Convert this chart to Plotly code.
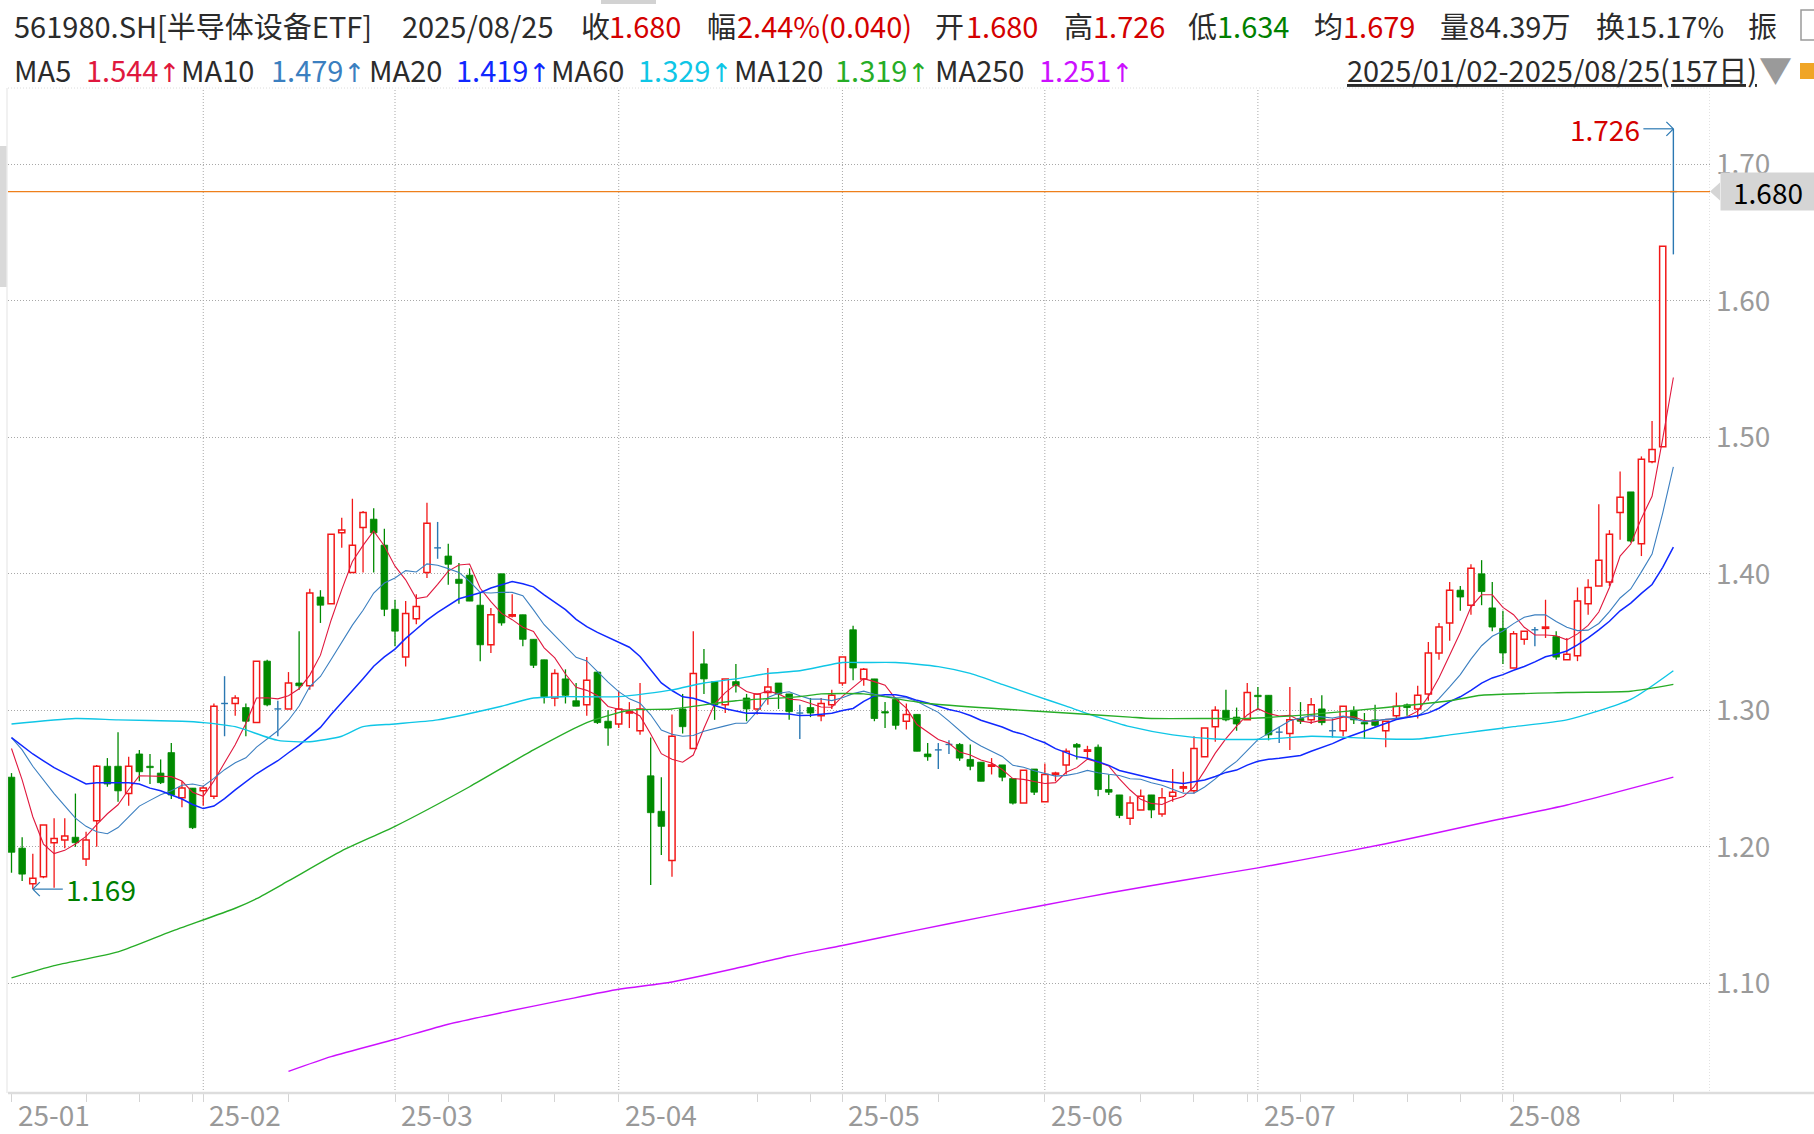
import numpy as np
import plotly.graph_objects as go

# ---------------- data ----------------
open_ = [1.251,1.199,1.173,1.178,1.203,1.205,1.207,1.191,1.219,1.259,
         1.259,1.239,1.268,1.259,1.254,1.269,1.236,1.243,1.241,1.237,
         1.305,1.305,1.302,1.291,1.336,1.301,1.301,1.320,1.318,1.383,
         1.378,1.430,1.401,1.434,1.440,1.421,1.374,1.339,1.367,1.401,
         1.419,1.413,1.396,1.399,1.377,1.348,1.400,1.369,1.370,1.352,
         1.337,1.309,1.323,1.307,1.304,1.328,1.292,1.290,1.298,1.285,
         1.252,1.226,1.190,1.301,1.272,1.334,1.321,1.304,1.321,1.309,
         1.301,1.313,1.320,1.312,1.298,1.302,1.296,1.304,1.320,1.359,
         1.323,1.323,1.299,1.308,1.292,1.297,1.268,1.271,1.275,1.275,
         1.264,1.262,1.259,1.260,1.250,1.232,1.257,1.233,1.253,1.260,
         1.275,1.270,1.273,1.242,1.238,1.221,1.227,1.238,1.224,1.237,
         1.243,1.241,1.266,1.288,1.300,1.295,1.293,1.311,1.311,1.284,
         1.283,1.294,1.293,1.301,1.285,1.285,1.300,1.291,1.293,1.285,
         1.296,1.304,1.301,1.312,1.342,1.364,1.388,1.377,1.400,1.375,
         1.360,1.331,1.352,1.359,1.360,1.354,1.337,1.340,1.378,1.391,
         1.394,1.445,1.460,1.422,1.482,1.493,1.680]
high = [1.254,1.207,1.195,1.216,1.221,1.221,1.239,1.211,1.260,1.265,
        1.284,1.266,1.271,1.268,1.264,1.276,1.248,1.243,1.245,1.305,
        1.325,1.311,1.305,1.336,1.337,1.307,1.328,1.358,1.389,1.388,
        1.429,1.441,1.455,1.446,1.448,1.433,1.381,1.380,1.385,1.452,
        1.438,1.422,1.408,1.404,1.386,1.375,1.400,1.385,1.370,1.352,
        1.337,1.330,1.330,1.320,1.339,1.328,1.300,1.314,1.306,1.320,
        1.280,1.251,1.297,1.312,1.358,1.345,1.321,1.323,1.334,1.312,
        1.312,1.331,1.320,1.312,1.304,1.309,1.309,1.315,1.339,1.362,
        1.331,1.323,1.306,1.309,1.305,1.297,1.276,1.276,1.278,1.276,
        1.275,1.262,1.265,1.260,1.250,1.256,1.257,1.261,1.255,1.272,
        1.276,1.274,1.275,1.253,1.238,1.237,1.242,1.238,1.243,1.257,
        1.255,1.281,1.287,1.303,1.315,1.302,1.320,1.317,1.311,1.288,
        1.317,1.306,1.309,1.311,1.294,1.303,1.303,1.298,1.304,1.292,
        1.313,1.305,1.318,1.350,1.364,1.394,1.391,1.407,1.410,1.394,
        1.373,1.358,1.358,1.361,1.381,1.358,1.353,1.390,1.396,1.451,
        1.432,1.475,1.460,1.486,1.512,1.640,1.726]
low = [1.181,1.175,1.169,1.177,1.170,1.199,1.200,1.186,1.200,1.244,
       1.233,1.230,1.248,1.246,1.246,1.235,1.229,1.213,1.230,1.235,
       1.281,1.296,1.281,1.291,1.303,1.281,1.301,1.315,1.315,1.364,
       1.378,1.419,1.401,1.401,1.401,1.369,1.347,1.332,1.363,1.397,
       1.411,1.392,1.378,1.380,1.336,1.342,1.362,1.368,1.347,1.331,
       1.305,1.303,1.305,1.303,1.296,1.290,1.274,1.287,1.287,1.282,
       1.172,1.194,1.178,1.283,1.272,1.312,1.293,1.298,1.313,1.292,
       1.297,1.304,1.301,1.293,1.279,1.295,1.292,1.301,1.318,1.322,
       1.318,1.292,1.287,1.286,1.286,1.270,1.263,1.257,1.268,1.263,
       1.256,1.248,1.253,1.248,1.231,1.232,1.238,1.233,1.248,1.253,
       1.264,1.265,1.237,1.238,1.221,1.216,1.227,1.221,1.222,1.233,
       1.240,1.239,1.266,1.277,1.292,1.285,1.293,1.300,1.278,1.276,
       1.271,1.290,1.290,1.289,1.280,1.281,1.290,1.279,1.288,1.273,
       1.294,1.296,1.294,1.307,1.337,1.351,1.373,1.370,1.377,1.358,
       1.334,1.331,1.348,1.347,1.353,1.337,1.337,1.336,1.370,1.391,
       1.391,1.425,1.423,1.413,1.481,1.493,1.634]
close = [1.196,1.180,1.177,1.216,1.206,1.208,1.203,1.205,1.259,1.246,
         1.241,1.259,1.255,1.258,1.247,1.238,1.243,1.214,1.243,1.303,
         1.305,1.309,1.292,1.336,1.304,1.301,1.320,1.318,1.386,1.377,
         1.429,1.432,1.421,1.445,1.430,1.374,1.358,1.371,1.376,1.437,
         1.419,1.407,1.393,1.380,1.348,1.370,1.364,1.370,1.352,1.333,
         1.310,1.327,1.311,1.303,1.322,1.291,1.287,1.301,1.299,1.301,
         1.225,1.215,1.281,1.288,1.327,1.323,1.304,1.323,1.318,1.301,
         1.312,1.317,1.312,1.299,1.298,1.298,1.305,1.311,1.339,1.331,
         1.330,1.294,1.298,1.289,1.297,1.270,1.266,1.271,1.275,1.265,
         1.259,1.248,1.260,1.251,1.232,1.256,1.240,1.253,1.254,1.270,
         1.273,1.271,1.242,1.240,1.223,1.232,1.237,1.227,1.236,1.240,
         1.244,1.272,1.287,1.300,1.293,1.290,1.313,1.310,1.282,1.284,
         1.293,1.292,1.304,1.291,1.285,1.303,1.293,1.290,1.289,1.292,
         1.303,1.302,1.311,1.342,1.361,1.388,1.383,1.404,1.387,1.361,
         1.342,1.356,1.358,1.359,1.361,1.339,1.341,1.380,1.390,1.410,
         1.429,1.456,1.424,1.484,1.491,1.640,1.680]

# moving-average values at the first days (need 2024 history)
ma5_start = [1.272, 1.249, 1.222, 1.202]
ma10_start = [1.280, 1.271, 1.259, 1.249, 1.239, 1.230, 1.221, 1.215, 1.211]
ma20_start = [1.280, 1.274, 1.268, 1.263, 1.258, 1.254, 1.250, 1.246, 1.247, 1.247,
              1.247, 1.247, 1.246, 1.243, 1.241, 1.238, 1.235, 1.231, 1.228]

# long moving averages read at sample days
ma60_idx = [0,6,10,16,18,21,25,28,31,33,36,40,46,49,52,57,62,65,68,71,74,78,80,83,87,90,
            93,96,99,102,105,109,113,118,122,126,129,132,135,138,141,146,152,156]
ma60_val = [1.290,1.294,1.293,1.292,1.291,1.288,1.278,1.277,1.281,1.288,1.290,1.293,1.303,
            1.309,1.310,1.310,1.315,1.320,1.323,1.327,1.329,1.335,1.335,1.335,1.332,1.327,
            1.319,1.311,1.303,1.295,1.288,1.282,1.279,1.279,1.281,1.280,1.279,1.279,1.282,
            1.285,1.288,1.293,1.308,1.329]
ma120_idx = [0,4,10,15,21,23,26,31,36,43,49,54,58,62,68,74,76,80,86,93,99,105,107,113,116,
             122,129,135,138,146,152,156]
ma120_val = [1.104,1.113,1.123,1.138,1.155,1.162,1.175,1.197,1.215,1.244,1.271,1.291,1.300,
             1.301,1.307,1.310,1.312,1.312,1.305,1.301,1.298,1.295,1.294,1.294,1.294,1.297,
             1.302,1.307,1.311,1.313,1.314,1.319]
ma250_idx = [26,30,36,41,46,52,57,62,68,73,78,85,91,97,103,110,117,121,129,138,146,156]
ma250_val = [1.0355,1.0463,1.0590,1.0700,1.0785,1.0880,1.0956,1.1010,1.1110,1.1200,1.1277,
             1.1390,1.1483,1.1574,1.1662,1.1755,1.1846,1.1902,1.2022,1.2174,1.2306,1.2510]

month_start_idx = [0, 18, 36, 57, 78, 97, 117, 140]
month_labels = ['25-01', '25-02', '25-03', '25-04', '25-05', '25-06', '25-07', '25-08']
minor_tick_idx = [0,7,12,17,18,26,36,41,46,51,57,70,75,78,82,87,97,106,111,116,117,121,
                  126,131,136,140,141,151,156]
ytick_vals = [1.10, 1.20, 1.30, 1.40, 1.50, 1.60, 1.70]
ytick_text = ['1.10', '1.20', '1.30', '1.40', '1.50', '1.60', '1.70']

last_price = 1.680
hi_mark = (156, 1.726)
lo_mark = (2, 1.169)

# ---------------- styling ----------------
W, H = 1814, 1134
PL, PR, PT, PB = 8, 1710, 88, 1093          # plot area in pixels
PW, PH = PR - PL, PB - PT
FONT = "Noto Sans CJK SC, Noto Sans, sans-serif"
RED = '#f21818'
GREEN = '#008a00'
FLAT = '#2b78b2'
MA5C, MA10C, MA20C = '#e0183e', '#3b7fc0', '#1028ff'
MA60C, MA120C, MA250C = '#0fc6e6', '#27ad27', '#cc10ff'
DARK = '#2b2b2b'
TRED = '#d40000'
TGREEN = '#008000'

def px(x):
    return (x - PL) / PW

def py(y):
    return (PB - y) / PH

N = len(close)
idx = np.arange(N)
o = np.array(open_); h = np.array(high); l = np.array(low); c = np.array(close)

def moving(n, start):
    out = list(start)
    for i in range(len(start), N):
        out.append(c[i - n + 1:i + 1].mean())
    return out

ma5 = moving(5, ma5_start)
ma10 = moving(10, ma10_start)
ma20 = moving(20, ma20_start)

fig = go.Figure()

inc = [i for i in range(N) if c[i] > o[i]]
dec = [i for i in range(N) if c[i] < o[i]]
flat = [i for i in range(N) if c[i] == o[i]]

def segs(pairs):
    xs, ys = [], []
    for (x0, y0, x1, y1) in pairs:
        xs += [x0, x1, None]; ys += [y0, y1, None]
    return xs, ys

# wicks
rx, ry = segs([(i, h[i], i, c[i]) for i in inc] + [(i, o[i], i, l[i]) for i in inc])
fig.add_trace(go.Scatter(x=rx, y=ry, mode='lines', line=dict(color=RED, width=1.3),
                         hoverinfo='skip', showlegend=False))
gx, gy = segs([(i, h[i], i, l[i]) for i in dec])
fig.add_trace(go.Scatter(x=gx, y=gy, mode='lines', line=dict(color=GREEN, width=1.3),
                         hoverinfo='skip', showlegend=False))
bx, by = segs([(i, h[i], i, l[i]) for i in flat] + [(i - 0.32, o[i], i + 0.32, o[i]) for i in flat])
fig.add_trace(go.Scatter(x=bx, y=by, mode='lines', line=dict(color=FLAT, width=1.4),
                         hoverinfo='skip', showlegend=False))

# bodies
fig.add_trace(go.Bar(x=inc, base=[o[i] for i in inc], y=[c[i] - o[i] for i in inc],
                     width=0.58, marker=dict(color='white', line=dict(color=RED, width=1.5)),
                     hoverinfo='skip', showlegend=False))
fig.add_trace(go.Bar(x=dec, base=[c[i] for i in dec], y=[o[i] - c[i] for i in dec],
                     width=0.62, marker=dict(color=GREEN, line=dict(color=GREEN, width=0.8)),
                     hoverinfo='skip', showlegend=False))

# moving averages
for vals, col, wd in [(ma5, MA5C, 1.1), (ma10, MA10C, 1.1), (ma20, MA20C, 1.5)]:
    fig.add_trace(go.Scatter(x=idx, y=vals, mode='lines', line=dict(color=col, width=wd),
                             hoverinfo='skip', showlegend=False))
for xi, vals, col in [(ma60_idx, ma60_val, MA60C), (ma120_idx, ma120_val, MA120C),
                      (ma250_idx, ma250_val, MA250C)]:
    fig.add_trace(go.Scatter(x=xi, y=vals, mode='lines',
                             line=dict(color=col, width=1.4, shape='spline', smoothing=0.6),
                             hoverinfo='skip', showlegend=False))

# high / low markers (arrows)
dx_px = 1 / 10.653
dy_px = 1 / 1365.0
hx, hy = hi_mark
lx, ly = lo_mark
ax_, ay_ = segs([(hx - 30 * dx_px, hy, hx, hy),
                 (hx - 7 * dx_px, hy + 7 * dy_px, hx, hy),
                 (hx - 7 * dx_px, hy - 7 * dy_px, hx, hy),
                 (lx, ly, lx + 30 * dx_px, ly),
                 (lx + 7 * dx_px, ly + 7 * dy_px, lx, ly),
                 (lx + 7 * dx_px, ly - 7 * dy_px, lx, ly)])
fig.add_trace(go.Scatter(x=ax_, y=ay_, mode='lines', line=dict(color=FLAT, width=1.2),
                         hoverinfo='skip', showlegend=False))

shapes = []
# month grid lines
for m in month_start_idx[1:]:
    shapes.append(dict(type='line', xref='x', yref='paper', x0=m, x1=m, y0=0, y1=1,
                       line=dict(color='#a8a8a8', width=1, dash='1px,2px'), layer='below'))
# borders
shapes.append(dict(type='line', xref='paper', yref='paper', x0=0, x1=1, y0=1, y1=1,
                   line=dict(color='#dcdcdc', width=1, dash='1px,2px')))
shapes.append(dict(type='line', xref='paper', yref='paper', x0=px(7), x1=px(7), y0=py(PT), y1=0,
                   line=dict(color='#ececec', width=1.5)))
shapes.append(dict(type='line', xref='paper', yref='paper', x0=px(1709.5), x1=px(1709.5), y0=py(PT), y1=0,
                   line=dict(color='#e2e2e2', width=1, dash='1px,2px')))
shapes.append(dict(type='line', xref='paper', yref='paper', x0=px(PL), x1=px(W), y0=0, y1=0,
                   line=dict(color='#dddddd', width=2.5)))
# left grey tab and top tab
shapes.append(dict(type='rect', xref='paper', yref='paper', x0=px(0), x1=px(6.5), y0=py(146), y1=py(287),
                   fillcolor='#d9d9d9', line=dict(width=0)))
shapes.append(dict(type='rect', xref='paper', yref='paper', x0=px(601), x1=px(656), y0=py(0), y1=py(4),
                   fillcolor='#d2d2d2', line=dict(width=0)))
# top-right icons
shapes.append(dict(type='rect', xref='paper', yref='paper', x0=px(1801), x1=px(1816), y0=py(10), y1=py(40),
                   fillcolor='white', line=dict(color='#9a9a9a', width=1.5)))
shapes.append(dict(type='rect', xref='paper', yref='paper', x0=px(1800), x1=px(1816), y0=py(63), y1=py(79),
                   fillcolor='#f0a526', line=dict(width=0)))
# last price line and pointer
shapes.append(dict(type='line', xref='paper', yref='y', x0=0, x1=1, y0=last_price, y1=last_price,
                   line=dict(color='#ee7f1b', width=1.2), layer='above'))
ly_px = 164.3 + (1.70 - last_price) * 1365
shapes.append(dict(type='path', xref='paper', yref='paper',
                   path=f"M {px(1710)},{py(ly_px)} L {px(1720)},{py(ly_px-9)} L {px(1720)},{py(ly_px+9)} Z",
                   fillcolor='#d5d5d5', line=dict(width=0)))

ann = []
def txt(x, y, s, color, size=29, xanchor='left', family=FONT):
    ann.append(dict(x=px(x), y=py(y), xref='paper', yref='paper', text=s, showarrow=False,
                    xanchor=xanchor, yanchor='middle', font=dict(family=family, size=size, color=color)))

L1, L2 = 25, 69
for x, s, col in [(12, '561980.SH[半导体设备ETF]', DARK), (400, '2025/08/25', DARK),
                  (579, '收', DARK), (607, '1.680', TRED), (705, '幅', DARK),
                  (735, '2.44%(0.040)', TRED), (933, '开', DARK), (964, '1.680', TRED),
                  (1062, '高', DARK), (1091, '1.726', TRED), (1186, '低', DARK),
                  (1215, '1.634', TGREEN), (1312, '均', DARK), (1341, '1.679', TRED),
                  (1438, '量84.39万', DARK), (1594, '换15.17%', DARK), (1746, '振', DARK)]:
    txt(x, L1, s, col)
ma_labels = [(12, 'MA5'), (179, 'MA10'), (367, 'MA20'), (549, 'MA60'), (732, 'MA120'), (933, 'MA250')]
ma_values = [(84, '1.544', MA5C), (269, '1.479', MA10C), (454, '1.419', MA20C),
             (636, '1.329', MA60C), (833, '1.319', MA120C), (1037, '1.251', MA250C)]
for x, s in ma_labels:
    txt(x, L2, s, DARK)
for x, s, col in ma_values:
    txt(x, L2, s + '<span style="font-family:DejaVu Sans;font-size:26px">↑</span>', col)
txt(1345, L2, '<u>2025/01/02-2025/08/25(157日)</u>', DARK)
txt(1757, L2, '▼', '#9a9a9a', size=33)

# month labels
for m, s in zip(month_start_idx, month_labels):
    ann.append(dict(x=m, y=py(1114), xref='x', yref='paper', text=s, showarrow=False,
                    xanchor='left', yanchor='middle', xshift=4,
                    font=dict(family=FONT, size=28, color='#999999')))
# high / low labels
ann.append(dict(x=hx - 31 * dx_px, y=hy, xref='x', yref='y', text=f'{hy:.3f}', showarrow=False,
                xanchor='right', yanchor='middle', font=dict(family=FONT, size=28, color=TRED)))
ann.append(dict(x=lx + 31 * dx_px, y=ly, xref='x', yref='y', text=f'{ly:.3f}', showarrow=False,
                xanchor='left', yanchor='middle', font=dict(family=FONT, size=28, color=TGREEN)))
# last price box
ann.append(dict(x=px(1720), y=last_price, xref='paper', yref='y', text=f'{last_price:.3f}', showarrow=False,
                xanchor='left', yanchor='middle', bgcolor='#d5d5d5', width=94, height=37, borderpad=0,
                font=dict(family=FONT, size=28, color='#000000')))

y_top = 1.70 + (164.3 - PT) / 1365
y_bot = 1.70 - (PB - 164.3) / 1365
x_left = (PL - 11.5) / 10.653
x_right = (PR - 11.5) / 10.653

fig.update_layout(
    width=W, height=H,
    margin=dict(l=PL, r=W - PR, t=PT, b=H - PB, pad=0),
    paper_bgcolor='white', plot_bgcolor='white',
    barmode='overlay', showlegend=False,
    font=dict(family=FONT),
    shapes=shapes, annotations=ann,
    xaxis=dict(range=[x_left, x_right], showgrid=False, zeroline=False, showline=False,
               tickvals=minor_tick_idx, ticks='outside', ticklen=8, tickcolor='#d4d4d4', tickwidth=1,
               showticklabels=False, fixedrange=True),
    yaxis=dict(range=[y_bot, y_top], side='right', tickvals=ytick_vals, ticktext=ytick_text,
               showgrid=True, gridcolor='#a8a8a8', gridwidth=1, griddash='1px,2px',
               zeroline=False, showline=False, ticks='', ticklabelstandoff=5,
               tickfont=dict(family=FONT, size=28, color='#9a9a9a'), fixedrange=True),
)

fig.write_html("out.html", config={'displayModeBar': False},
               post_script="document.body.style.margin='0px';document.body.style.overflow='hidden';")
